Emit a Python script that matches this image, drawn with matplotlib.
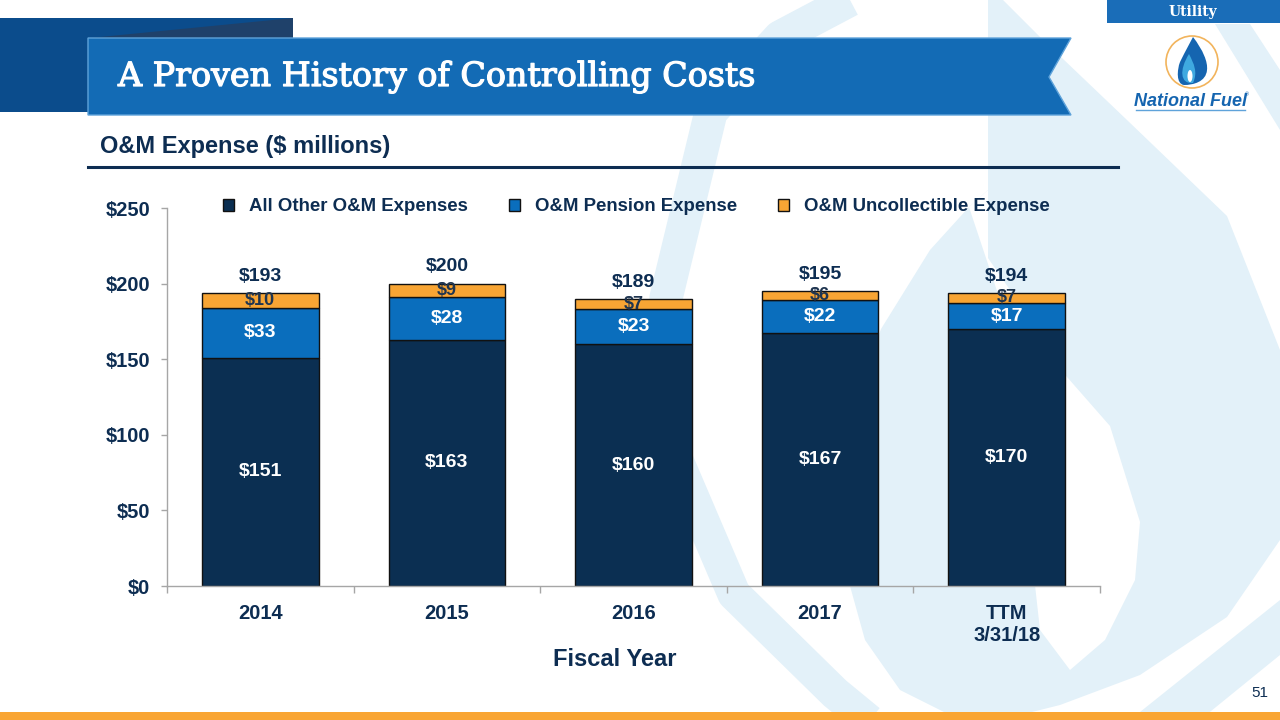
import numpy as np
import matplotlib
matplotlib.use("Agg")
import matplotlib.pyplot as plt
import matplotlib.patheffects as pe
from matplotlib.patches import Polygon, Rectangle, Ellipse, PathPatch
from matplotlib.path import Path

# chart data
categories = ['2014', '2015', '2016', '2017', 'TTM\n3/31/18']
other_om = [151, 163, 160, 167, 170]
pension = [33, 28, 23, 22, 17]
uncollectible = [10, 9, 7, 6, 7]
totals = [193, 200, 189, 195, 194]
series_names = ['All Other O&M Expenses', 'O&M Pension Expense', 'O&M Uncollectible Expense']
y_ticks = [0, 50, 100, 150, 200, 250]
y_tick_labels = ['$0', '$50', '$100', '$150', '$200', '$250']

NAVY = '#0D2D52'
C_OTHER = '#0B2F52'
C_PENSION = '#0A6EBD'
C_UNCOLL = '#F8A534'
WATER = '#E3F1F9'

plt.rcParams['font.family'] = ['Liberation Sans', 'DejaVu Sans']

fig = plt.figure(figsize=(12.8, 7.2), dpi=100)
fig.patch.set_facecolor('white')

# background / decoration layer in pixel coordinates
bg = fig.add_axes([0, 0, 1, 1], zorder=0)
bg.set_xlim(0, 1280)
bg.set_ylim(720, 0)
bg.axis('off')

# faint flame watermark
band_a = [(850, 0), (780, 37), (711, 112), (666, 298), (675, 456), (734, 594), (835, 693), (880, 730)]
bg.plot(*zip(*band_a), color=WATER, lw=24, solid_capstyle='butt', solid_joinstyle='round', zorder=1)
outer = [(988, 0), (1003, 0), (1040, 37), (1127, 120), (1227, 216), (1280, 350), (1280, 540),
         (1227, 617), (1140, 675), (1060, 705), (1000, 720), (960, 720), (900, 690), (865, 640),
         (850, 586), (845, 456), (860, 390), (881, 329), (930, 250), (969, 207), (988, 190)]
bg.add_patch(Polygon(outer, closed=True, color=WATER, lw=0, zorder=1))
hole = [(969, 207), (1000, 300), (1022, 420), (1030, 540), (1040, 630), (1070, 670),
        (1105, 640), (1135, 580), (1140, 522), (1110, 426), (1060, 369), (1010, 290), (988, 258), (988, 190)]
bg.add_patch(Polygon(hole, closed=True, color='white', lw=0, zorder=1))
bg.add_patch(Polygon([(1280, 600), (1280, 655), (1200, 720), (1130, 720)], closed=True,
                     color=WATER, lw=0, zorder=1))
bg.add_patch(Polygon([(1215, 24), (1250, 24), (1280, 70), (1280, 130)], closed=True,
                     color=WATER, lw=0, zorder=1))

# header banners
bg.add_patch(Polygon([(0, 18), (293, 18), (293, 112), (0, 112)], closed=True,
                     color='#0B4C8C', lw=0, zorder=2))
bg.add_patch(Polygon([(90, 38), (293, 18), (293, 38)], closed=True, color='#1F416A', lw=0, zorder=2))
bg.add_patch(Polygon([(88, 38), (1071, 38), (1049, 77), (1071, 115), (88, 115)], closed=True,
                     facecolor='#136BB5', edgecolor='#5FA3DA', lw=1, zorder=3))
bg.text(118, 77, 'A Proven History of Controlling Costs', color='white', fontsize=24,
        family='DejaVu Serif', va='center', ha='left', zorder=4,
        path_effects=[pe.withStroke(linewidth=0.9, foreground='white')])

# utility tab and logo
bg.add_patch(Rectangle((1107, 0), 173, 23, color='#1A6DB8', lw=0, zorder=2))
bg.text(1193, 12, 'Utility', color='white', fontsize=10, fontweight='bold',
        family='DejaVu Serif', ha='center', va='center', zorder=3)
bg.add_patch(Ellipse((1192, 62), 52, 52, facecolor='white', edgecolor='#F2B45C', lw=1.2, zorder=2))
drop = Path([(1193, 37), (1203, 50), (1208, 62), (1207, 70), (1206, 82), (1193, 85), (1184, 85),
             (1176, 84), (1177, 70), (1180, 62), (1184, 54), (1193, 37)],
            [Path.MOVETO] + [Path.CURVE4] * 9 + [Path.LINETO, Path.CLOSEPOLY][:2])
bg.add_patch(PathPatch(drop, facecolor='#1565B0', lw=0, zorder=3))
inner = Path([(1189, 54), (1194, 64), (1198, 72), (1193, 83), (1180, 84), (1179, 70), (1189, 54)],
             [Path.MOVETO, Path.CURVE4, Path.CURVE4, Path.CURVE4, Path.CURVE4, Path.CURVE4, Path.CURVE4])
bg.add_patch(PathPatch(inner, facecolor='#3FA9E0', lw=0, zorder=4))
bg.add_patch(Ellipse((1190, 76), 5, 12, facecolor='white', lw=0, zorder=5))
bg.text(1190, 101, 'National Fuel', color='#1565B0', fontsize=13, fontweight='bold',
        style='italic', ha='center', va='center', zorder=3)
bg.text(1245, 95, '®', color='#1565B0', fontsize=4, ha='left', va='center', zorder=3)
bg.plot([1136, 1245], [110, 110], color='#5FA3DA', lw=1, zorder=3)

# subtitle and rule
bg.text(100, 147, 'O&M Expense ($ millions)', color=NAVY, fontsize=17, fontweight='bold',
        ha='left', va='center', zorder=3)
bg.plot([88, 1118], [167, 167], color=NAVY, lw=2.2, zorder=3)

# footer
bg.add_patch(Rectangle((0, 712), 1280, 8, color='#F9A533', lw=0, zorder=3))
bg.text(1268, 693, '51', color=NAVY, fontsize=11, ha='right', va='center', zorder=3)
bg.text(615, 660, 'Fiscal Year', color=NAVY, fontsize=17, fontweight='bold',
        ha='center', va='center', zorder=3)

# chart
ax = fig.add_axes([167 / 1280, 134 / 720, 933 / 1280, 378 / 720], zorder=2)
ax.set_facecolor('none')
x = np.arange(len(categories))
w = 0.625
base2 = np.array(other_om)
base3 = base2 + np.array(pension)
ax.bar(x, other_om, w, color=C_OTHER, edgecolor='#111111', lw=1, label=series_names[0])
ax.bar(x, pension, w, bottom=base2, color=C_PENSION, edgecolor='#111111', lw=1, label=series_names[1])
ax.bar(x, uncollectible, w, bottom=base3, color=C_UNCOLL, edgecolor='#111111', lw=1, label=series_names[2])

for i in range(len(categories)):
    ax.text(x[i], other_om[i] / 2, f'${other_om[i]}', color='white', fontsize=14,
            fontweight='bold', ha='center', va='center')
    ax.text(x[i], base2[i] + pension[i] / 2, f'${pension[i]}', color='white', fontsize=14,
            fontweight='bold', ha='center', va='center')
    ax.text(x[i], base3[i] + uncollectible[i] / 2, f'${uncollectible[i]}', color='#1F3550',
            fontsize=13, fontweight='bold', ha='center', va='center')
    top = base3[i] + uncollectible[i]
    ax.annotate(f'${totals[i]}', (x[i], top), xytext=(0, 12), textcoords='offset points',
                color=NAVY, fontsize=14, fontweight='bold', ha='center', va='center')

ax.set_xlim(-0.5, len(categories) - 0.5)
ax.set_ylim(0, 250)
ax.set_yticks(y_ticks)
ax.set_yticklabels(y_tick_labels)
ax.set_xticks(x)
ax.set_xticklabels(categories)
ax.set_xticks(np.arange(-0.5, len(categories)), minor=True)
ax.tick_params(axis='x', which='major', length=0, pad=13, labelsize=14.5, labelcolor=NAVY)
ax.tick_params(axis='x', which='minor', length=5, color='#A6A6A6', width=1)
ax.tick_params(axis='y', length=4, color='#A6A6A6', width=1, pad=8, labelsize=14.5, labelcolor=NAVY)
for lbl in ax.get_xticklabels() + ax.get_yticklabels():
    lbl.set_fontweight('bold')
for s in ['top', 'right']:
    ax.spines[s].set_visible(False)
for s in ['left', 'bottom']:
    ax.spines[s].set_color('#A6A6A6')
    ax.spines[s].set_linewidth(1)

leg = ax.legend(loc='upper left', bbox_to_anchor=(0.042, 1.07), ncol=3, frameon=False,
                handlelength=0.6, handleheight=0.6, handletextpad=0.8, columnspacing=2.2,
                prop={'size': 13.4, 'weight': 'bold'})
for t in leg.get_texts():
    t.set_color(NAVY)

fig.savefig('out.png', dpi=100)
